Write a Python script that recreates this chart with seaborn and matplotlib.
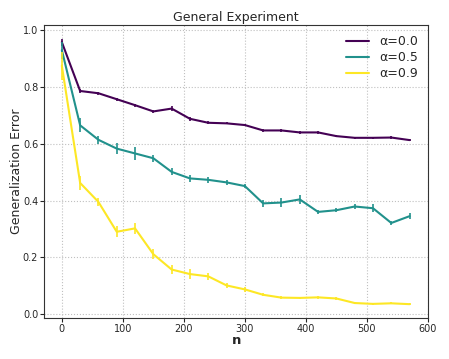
import numpy as np
import pandas as pd
import seaborn as sns
import matplotlib.pyplot as plt

# sample sizes
n = [0, 30, 60, 90, 120, 150, 180, 210, 240, 270, 300, 330, 360, 390, 420, 450, 480, 510, 540, 570]

# mean generalization error per alpha
err_a00 = [0.958, 0.786, 0.778, 0.757, 0.736, 0.714, 0.724, 0.688, 0.674, 0.672, 0.666, 0.647, 0.647,
           0.640, 0.640, 0.627, 0.621, 0.621, 0.622, 0.613]
err_a05 = [0.930, 0.665, 0.614, 0.583, 0.566, 0.549, 0.501, 0.478, 0.473, 0.464, 0.451, 0.390, 0.393,
           0.404, 0.360, 0.366, 0.379, 0.373, 0.321, 0.345]
err_a09 = [0.875, 0.462, 0.395, 0.290, 0.302, 0.211, 0.157, 0.141, 0.133, 0.101, 0.087, 0.068, 0.058,
           0.057, 0.059, 0.055, 0.039, 0.036, 0.038, 0.035]

# half widths of the error bars
sd_a00 = [0.012, 0.006, 0.005, 0.006, 0.005, 0.006, 0.008, 0.006, 0.005, 0.004, 0.005, 0.005, 0.005,
          0.005, 0.004, 0.004, 0.004, 0.004, 0.005, 0.004]
sd_a05 = [0.030, 0.025, 0.015, 0.018, 0.022, 0.012, 0.012, 0.013, 0.010, 0.010, 0.008, 0.012, 0.015,
          0.015, 0.007, 0.008, 0.009, 0.014, 0.008, 0.010]
sd_a09 = [0.050, 0.025, 0.015, 0.020, 0.020, 0.018, 0.016, 0.018, 0.013, 0.010, 0.008, 0.005, 0.005,
          0.005, 0.005, 0.005, 0.004, 0.004, 0.004, 0.004]

labels = ['α=0.0', 'α=0.5', 'α=0.9']
colors = ['#440154', '#21918c', '#fde725']

df = pd.concat([
    pd.DataFrame({'n': n, 'err': e, 'sd': s, 'alpha': lab})
    for e, s, lab in zip([err_a00, err_a05, err_a09], [sd_a00, sd_a05, sd_a09], labels)
])

sns.set_style('ticks')
fig, ax = plt.subplots(figsize=(4.49, 3.59), dpi=100)

sns.lineplot(data=df, x='n', y='err', hue='alpha', palette=colors, linewidth=1.5, ax=ax)
for lab, c in zip(labels, colors):
    d = df[df['alpha'] == lab]
    ax.errorbar(d['n'], d['err'], yerr=d['sd'], fmt='none', ecolor=c, elinewidth=1.2, capsize=0)

ax.set_xlim(-28.5, 600)
ax.set_ylim(-0.014, 1.018)
ax.set_xticks([0, 100, 200, 300, 400, 500, 600])
ax.set_yticks([0.0, 0.2, 0.4, 0.6, 0.8, 1.0])
ax.grid(True, color='#c0c0c0', linestyle=':', linewidth=0.8)
ax.tick_params(labelsize=7, length=3, pad=1.5)
for sp in ax.spines.values():
    sp.set_color('#333333')

ax.set_title('General Experiment', fontsize=9, pad=3)
ax.set_xlabel('n', fontsize=9.5, fontweight='bold', labelpad=0)
ax.set_ylabel('Generalization Error', fontsize=9, labelpad=0)
ax.legend(title=None, frameon=False, fontsize=9, loc='upper right', handlelength=1.85,
          labelspacing=0.25, borderaxespad=0.4)

fig.subplots_adjust(left=0.099, right=0.953, top=0.930, bottom=0.114)
fig.savefig('out.png', dpi=100)
